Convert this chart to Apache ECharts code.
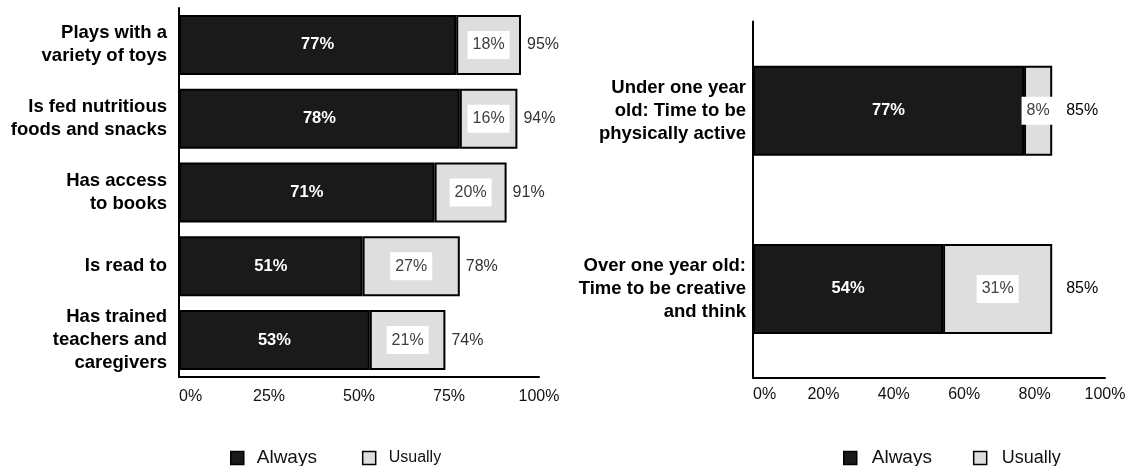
<!DOCTYPE html>
<html>
<head>
<meta charset="utf-8">
<script src="https://cdn.jsdelivr.net/npm/echarts@6/dist/echarts.min.js"></script>
<style>
  html, body { margin: 0; padding: 0; background: #fff; }
  #chart { width: 1131px; height: 466px; }
</style>
</head>
<body>
<div id="chart"></div>
<script>
// Childcare practices, left panel
const leftCategories = [
  'Plays with a\nvariety of toys',
  'Is fed nutritious\nfoods and snacks',
  'Has access\nto books',
  'Is read to',
  'Has trained\nteachers and\ncaregivers'
];
const leftAlways = [77, 78, 71, 51, 53];
const leftUsually = [18, 16, 20, 27, 21];
const leftTotals = [95, 94, 91, 78, 74];

// Activity time by age, right panel
const rightCategories = [
  'Under one year\nold: Time to be\nphysically active',
  'Over one year old:\nTime to be creative\nand think'
];
const rightAlways = [77, 54];
const rightUsually = [8, 31];
const rightTotals = [85, 85];

const FONT = '"Liberation Sans", Arial, sans-serif';
const DARK = '#1a1a1a';
const LIGHT = '#dedede';

function pct(p) { return p.value + '%'; }

function barSeries(name, data, axis, width, color, label) {
  return {
    name: name, type: 'bar', stack: 'total' + axis,
    xAxisIndex: axis, yAxisIndex: axis,
    barWidth: width, data: data,
    itemStyle: { color: color, borderColor: '#000', borderWidth: 2 },
    label: label,
    emphasis: { disabled: true }
  };
}

function totalSeries(data, axis, width, dist, color) {
  return {
    name: 'Total', type: 'bar', xAxisIndex: axis, yAxisIndex: axis,
    barWidth: width, barGap: '-100%', data: data, silent: true, z: 1,
    itemStyle: { color: 'rgba(0,0,0,0)' },
    label: { show: true, position: 'right', distance: dist, formatter: pct,
             fontFamily: FONT, fontSize: 16, color: color }
  };
}

const alwaysLabel = { show: true, position: 'inside', formatter: pct,
  fontFamily: FONT, fontSize: 16.5, fontWeight: 'bold', color: '#fff' };
const usuallyLabel = { show: true, position: 'inside', formatter: pct,
  fontFamily: FONT, fontSize: 16, color: '#404040',
  backgroundColor: '#fff', padding: [6, 5, 6, 5], lineHeight: 16 };

function valueAxis(idx, step) {
  return {
    type: 'value', gridIndex: idx, min: 0, max: 100, interval: step,
    axisLine: { show: true, lineStyle: { color: '#000', width: 2 } },
    axisTick: { show: false }, splitLine: { show: false },
    axisLabel: { formatter: '{value}%', fontFamily: FONT, fontSize: 16,
                 color: '#111', margin: idx === 0 ? 12 : 9, alignMinLabel: 'left' }
  };
}

function categoryAxis(idx, cats, margin) {
  return {
    type: 'category', gridIndex: idx, data: cats, inverse: true,
    axisLine: { show: true, lineStyle: { color: '#000', width: 2 } },
    axisTick: { show: false },
    axisLabel: { fontFamily: FONT, fontSize: 18.5, fontWeight: 'bold',
                 color: '#000', lineHeight: 23, margin: margin, align: 'right' }
  };
}

function legend(x, alwaysSize, usuallySize, pad, gap) {
  return {
    left: x, top: 441, orient: 'horizontal', icon: 'rect',
    itemWidth: 13, itemHeight: 13, itemGap: gap,
    itemStyle: { borderColor: '#000', borderWidth: 1.5 },
    textStyle: { fontFamily: FONT, color: '#111', padding: [4, 0, 0, pad], lineHeight: 20 },
    data: [
      { name: 'Always', textStyle: { fontSize: alwaysSize } },
      { name: 'Usually', textStyle: { fontSize: usuallySize } }
    ],
    selectedMode: false
  };
}

const chart = echarts.init(document.getElementById('chart'), null, { renderer: 'canvas' });
chart.setOption({
  backgroundColor: '#fff',
  animation: false,
  grid: [
    { left: 179, right: 592, top: 8, bottom: 89 },
    { left: 753, right: 26, top: 21.5, bottom: 88 }
  ],
  xAxis: [valueAxis(0, 25), valueAxis(1, 20)],
  yAxis: [categoryAxis(0, leftCategories, 12), categoryAxis(1, rightCategories, 7)],
  legend: [legend(225, 19, 16, 8, 45), legend(838, 19, 18, 10, 41)],
  series: [
    barSeries('Always', leftAlways, 0, 60, DARK, alwaysLabel),
    barSeries('Usually', leftUsually, 0, 60, LIGHT, usuallyLabel),
    totalSeries(leftTotals, 0, 60, 6, '#333'),
    barSeries('Always', rightAlways, 1, 90, DARK, alwaysLabel),
    barSeries('Usually', rightUsually, 1, 90, LIGHT, usuallyLabel),
    totalSeries(rightTotals, 1, 90, 14, '#000')
  ]
});
</script>
</body>
</html>
